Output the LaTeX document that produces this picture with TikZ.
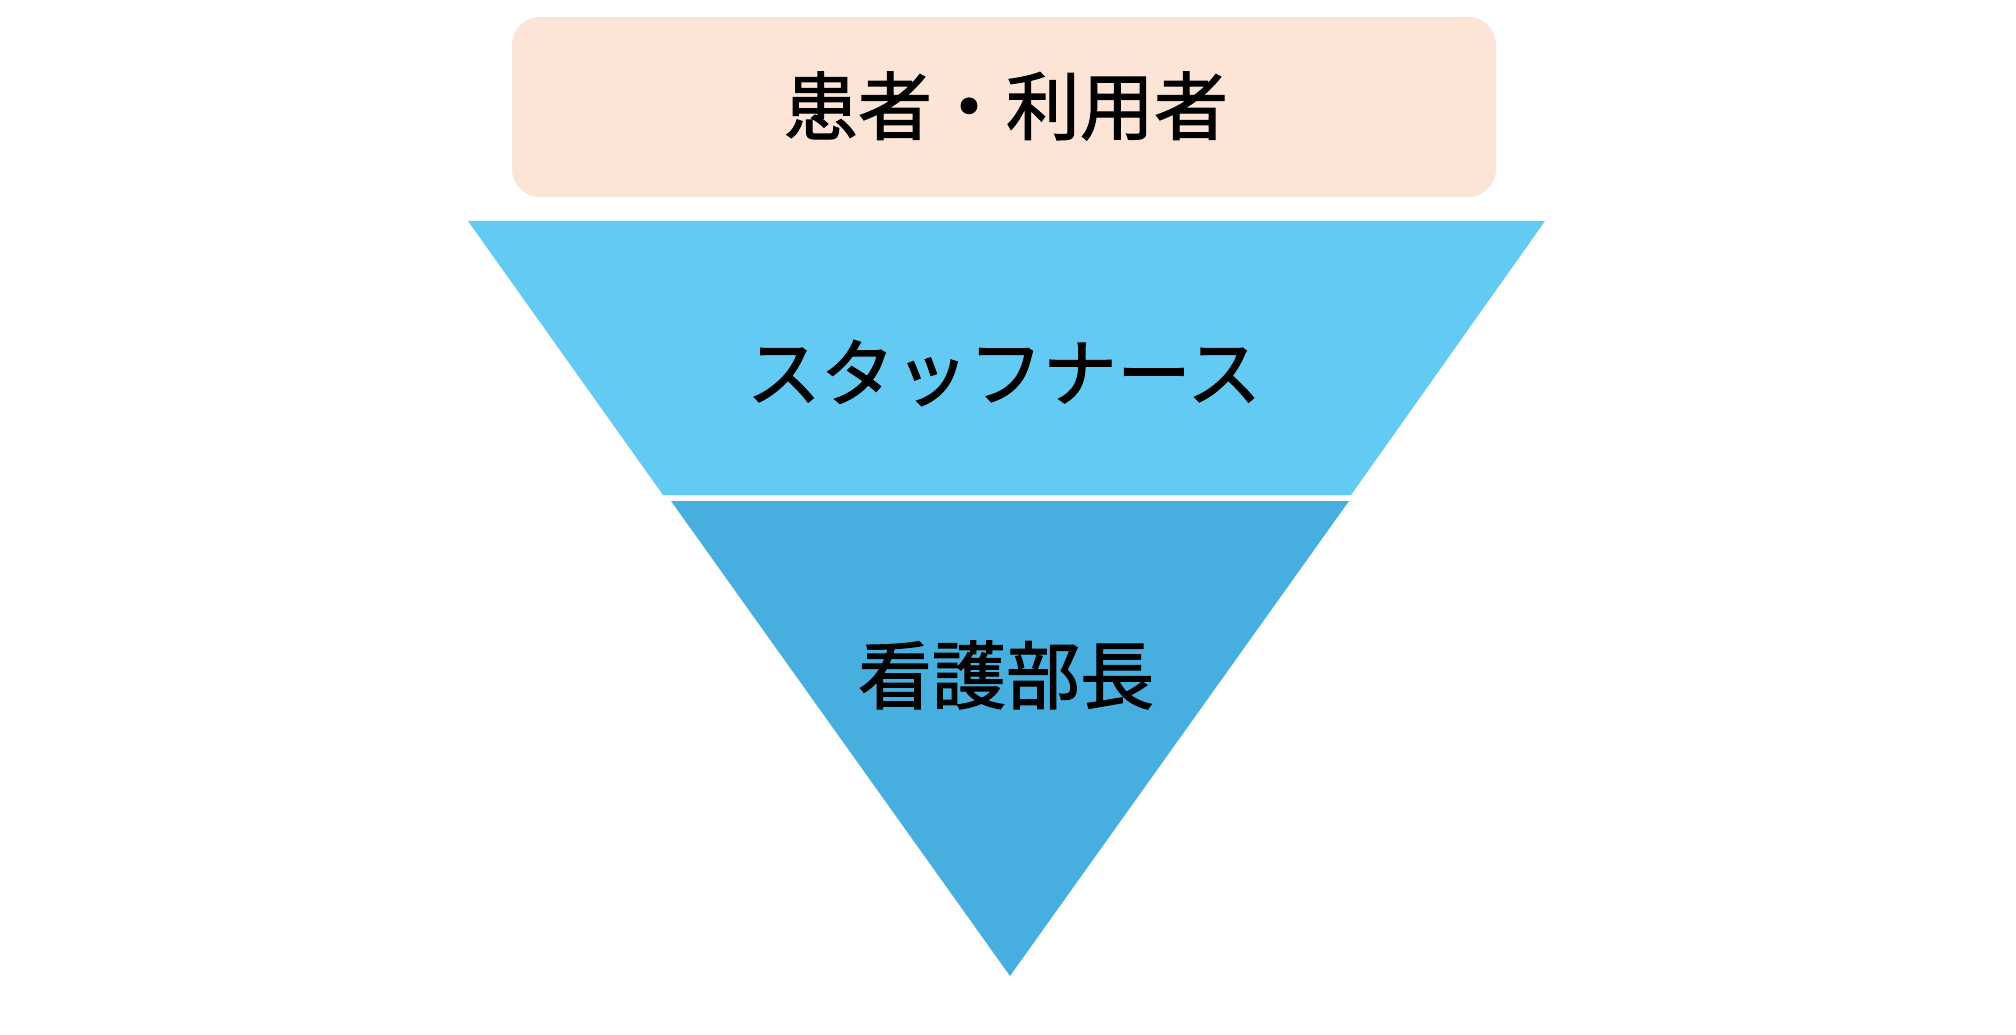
\documentclass[tikz,border=0pt]{standalone}
\usepackage{fontspec}
\newfontfamily\jpfont[BoldFont={Noto Sans CJK JP},BoldFeatures={FakeBold=1.6}]{Noto Sans CJK JP}
\definecolor{boxpeach}{HTML}{FCE4D6}
\definecolor{tierlight}{HTML}{63CAF3}
\definecolor{tierdark}{HTML}{47AFE0}
\begin{document}
\begin{tikzpicture}[x=1pt,y=-1pt,
  lbl/.style={font=\jpfont\bfseries\fontsize{74}{80}\selectfont, text=black, inner sep=0pt}]
\useasboundingbox[fill=white] (0,0) rectangle (2016,1035);
% top rounded box
\node[fill=boxpeach, rounded corners=28pt, minimum width=984pt, minimum height=180pt, inner sep=0pt] (patients) at (1004,107) {};
\node[lbl] (patientslbl) at (1006,106) {患者・利用者};
% upper trapezoid
\fill[tierlight] (468,221) -- (1545,221) -- (1351,495) -- (663,495) -- cycle;
\node[lbl] (staff) at (1004,373) {スタッフナース};
% lower triangle
\fill[tierdark] (671,501) -- (1349,501) -- (1010,976) -- cycle;
\node[lbl] (head) at (1006,675) {看護部長};
\end{tikzpicture}
\end{document}
